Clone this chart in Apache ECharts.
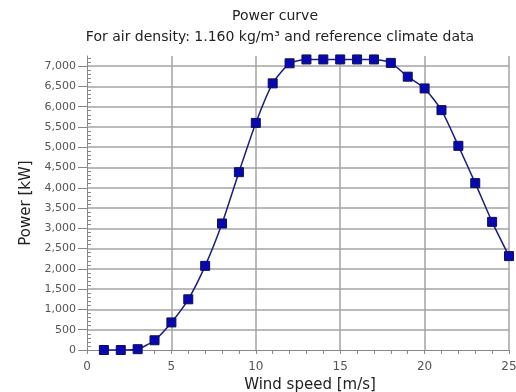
<!DOCTYPE html>
<html>
<head>
<meta charset="utf-8">
<script src="https://cdn.jsdelivr.net/npm/echarts@6/dist/echarts.min.js"></script>
<style>
  html, body { margin: 0; padding: 0; background: #fff; }
  #chart { width: 516px; height: 392px; }
</style>
</head>
<body>
<div id="chart"></div>
<script>
// Wind speed bins [m/s] and electrical output [kW]
const windSpeed = [1, 2, 3, 4, 5, 6, 7, 8, 9, 10, 11, 12, 13, 14, 15, 16, 17, 18, 19, 20, 21, 22, 23, 24, 25];
const powerKW = [0, 0, 20, 240, 680, 1250, 2075, 3120, 4385, 5600, 6575, 7070, 7165, 7165, 7165, 7165, 7165, 7080, 6740, 6450, 5915, 5035, 4115, 3160, 2315];

const chartTitle = 'Power curve';
const chartSubtitle = 'For air density: 1.160 kg/m\u00B3 and reference climate data';
const xName = 'Wind speed [m/s]';
const yName = 'Power [kW]';

const points = windSpeed.map((v, i) => [v, powerKW[i]]);
const FONT = 'DejaVu Sans';

const chart = echarts.init(document.getElementById('chart'), null, { renderer: 'canvas' });

chart.setOption({
  animation: false,
  backgroundColor: '#ffffff',
  title: [
    {
      text: chartTitle,
      left: 270, top: 4, textAlign: 'center',
      textStyle: { fontFamily: FONT, fontSize: 14, fontWeight: 'normal', color: '#222' }
    },
    {
      text: chartSubtitle,
      left: 275, top: 25, textAlign: 'center',
      textStyle: { fontFamily: FONT, fontSize: 14, fontWeight: 'normal', color: '#222' }
    }
  ],
  grid: { left: 87, right: 7, top: 56, bottom: 42, containLabel: false, outerBoundsMode: 'none' },
  xAxis: [
    {
      type: 'value', min: 0, max: 25, interval: 5,
      name: xName, nameLocation: 'middle', nameGap: 27,
      nameTextStyle: { fontFamily: FONT, fontSize: 15, color: '#222', padding: [0, 0, 0, 24] },
      axisLine: { show: true, onZero: false, lineStyle: { color: '#888', width: 1 } },
      axisTick: { show: true, length: 4, lineStyle: { color: '#888' } },
      minorTick: { show: true, splitNumber: 5, length: 4, lineStyle: { color: '#888' } },
      axisLabel: { fontFamily: FONT, fontSize: 12, color: '#555', margin: 11 },
      splitLine: { show: true, showMinLine: false, lineStyle: { color: '#a3a3a3', width: 1.5 } }
    }
  ],
  yAxis: [
    {
      type: 'value', min: 0, max: 7250, interval: 500,
      name: yName, nameLocation: 'middle', nameGap: 46,
      nameTextStyle: { fontFamily: FONT, fontSize: 15, color: '#222' },
      axisLine: { show: true, onZero: false, lineStyle: { color: '#888', width: 1 } },
      axisTick: { show: true, length: 9, lineStyle: { color: '#888' } },
      axisLabel: {
        fontFamily: FONT, fontSize: 11, color: '#555', margin: 11, showMaxLabel: false,
        formatter: v => v.toLocaleString('en-US')
      },
      splitLine: { show: true, showMinLine: false, showMaxLine: false, lineStyle: { color: '#a3a3a3', width: 1.5 } }
    },
    {
      // minor ticks drawn on the inner side of the power axis
      type: 'value', min: 0, max: 7250, interval: 500, position: 'left',
      axisLine: { show: false },
      axisTick: { show: false, inside: true },
      minorTick: { show: true, splitNumber: 5, length: 4, lineStyle: { color: '#888' } },
      axisLabel: { show: false },
      splitLine: { show: false }
    }
  ],
  series: [
    {
      type: 'line',
      data: points,
      smooth: 0.2,
      symbol: 'rect',
      symbolSize: 9,
      clip: false,
      lineStyle: { color: '#1c1c80', width: 1.5 },
      itemStyle: { color: '#0808b0', borderColor: '#0e0e5a', borderWidth: 1 },
      z: 5
    }
  ]
});
</script>
</body>
</html>
